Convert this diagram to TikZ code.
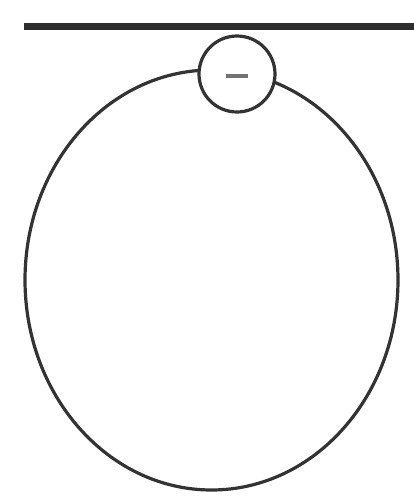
\documentclass[tikz,border=0pt]{standalone}
\usetikzlibrary{shapes.geometric}
\begin{document}
\begin{tikzpicture}[x=1pt,y=-1pt,
  outline/.style={draw=black!80,line width=3.2pt},
  bar/.style={draw=black!82,line width=7pt},
  minusmark/.style={draw=black!55,line width=4.5pt}]
\useasboundingbox (0,0) rectangle (414,499);
\coordinate (barL) at (24,26);
\coordinate (barR) at (414,26);
\draw[bar] (barL) -- (barR);
\node[outline,ellipse,minimum width=373pt,minimum height=420pt,inner sep=0pt] (body) at (211.5,280) {};
\node[outline,circle,fill=white,minimum size=76pt,inner sep=0pt] (ion) at (237,74) {};
\coordinate (mL) at (226,76);
\coordinate (mR) at (248,76);
\draw[minusmark] (mL) -- (mR);
\end{tikzpicture}
\end{document}
